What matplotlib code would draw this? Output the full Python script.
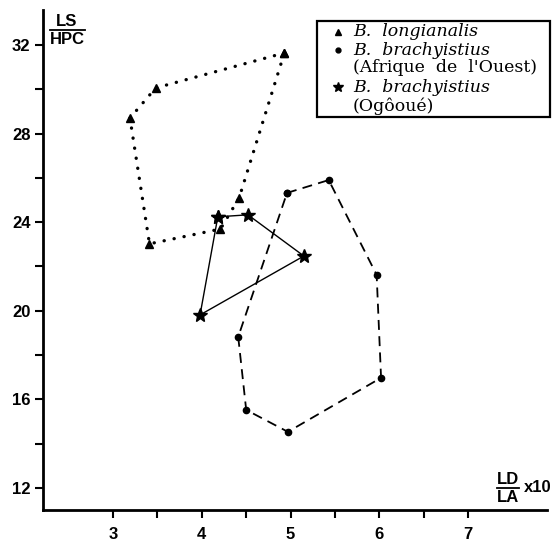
#!/usr/bin/env python
#------------------------------

import numpy as np
import matplotlib
matplotlib.use('Agg')
import matplotlib.pyplot as plt
from matplotlib.lines import Line2D
from matplotlib.patches import Rectangle

#------------------------------
# data: LD/LA x10 (x) vs LS/HPC (y)

longianalis_x = [4.93, 3.48, 3.19, 3.41, 4.21, 4.42]
longianalis_y = [31.64, 30.06, 28.70, 23.02, 23.69, 25.09]

brach_ouest_x = [4.96, 5.43, 5.97, 6.02, 4.97, 4.50, 4.41]
brach_ouest_y = [25.32, 25.90, 21.62, 16.97, 14.53, 15.52, 18.82]

brach_ogooue_x = [4.18, 4.52, 5.15, 3.98]
brach_ogooue_y = [24.24, 24.33, 22.47, 19.81]

xticks_major = [3, 4, 5, 6, 7]
yticks_major = [12, 16, 20, 24, 28, 32]

legend_lines = [('^', 'B.  longianalis', 'italic'),
                ('o', 'B.  brachyistius', 'italic'),
                (None, '(Afrique  de  l\'Ouest)', 'normal'),
                ('*', 'B.  brachyistius', 'italic'),
                (None, '(Ogôoué)', 'normal')]

#------------------------------

W, H = 556, 541

def closed(v) :
    return list(v) + [v[0]]

def fx(px) :
    return px / W

def fy(py) :
    return 1. - py / H

#------------------------------

fig = plt.figure(figsize=(W/100., H/100.), dpi=100)
ax = fig.add_axes([fx(43), fy(510), fx(547)-fx(43), fy(10)-fy(510)])

ax.plot(closed(longianalis_x), closed(longianalis_y), color='k', ls=(0, (0.05, 3.0)),
        lw=2.4, dash_capstyle='round', marker='^', ms=5.5, zorder=3)
ax.plot(closed(brach_ouest_x), closed(brach_ouest_y), color='k', ls=(0, (5.5, 3.5)),
        lw=1.3, marker='o', ms=4.5, zorder=3)
ax.plot(closed(brach_ogooue_x), closed(brach_ogooue_y), color='k', ls='-',
        lw=1.0, marker='*', ms=10, zorder=3)

ax.set_xlim(2.21, 7.89)
ax.set_ylim(11.0, 33.58)

ax.spines['top'].set_visible(False)
ax.spines['right'].set_visible(False)
ax.spines['left'].set_linewidth(2.0)
ax.spines['bottom'].set_linewidth(2.0)

ax.set_xticks(xticks_major)
ax.set_yticks(yticks_major)
ax.set_xticks(np.array(xticks_major[:-1]) + 0.5, minor=True)
ax.set_yticks(np.array(yticks_major[:-1]) + 2, minor=True)
ax.tick_params(which='both', direction='out', length=6, width=1.5, color='k')
ax.tick_params(axis='x', which='major', pad=6)
ax.tick_params(axis='y', which='major', pad=3)
for lab in ax.get_xticklabels() + ax.get_yticklabels() :
    lab.set_fontfamily('Liberation Sans')
    lab.set_fontweight('bold')
    lab.set_fontsize(12)

#------------------------------
# axis labels as fractions

sans = dict(family='Liberation Sans', weight='bold', fontsize=12, color='k')
fig.text(fx(67), fy(22), 'LS', ha='center', va='center', **sans)
fig.text(fx(67), fy(39), 'HPC', ha='center', va='center', **sans)
fig.add_artist(Line2D([fx(50), fx(85)], [fy(30), fy(30)], color='k', lw=1.3))

fig.text(fx(508), fy(480), 'LD', ha='center', va='center', **sans)
fig.text(fx(508), fy(497), 'LA', ha='center', va='center', **sans)
fig.add_artist(Line2D([fx(497), fx(519)], [fy(488), fy(488)], color='k', lw=1.3))
fig.text(fx(524), fy(488), 'x10', ha='left', va='center', **sans)

#------------------------------
# legend box

fig.add_artist(Rectangle((fx(317), fy(117)), fx(550)-fx(317), fy(21)-fy(117),
                         fill=False, ec='k', lw=1.6))
row_y = [32, 50, 68, 87, 106]
for (mk, txt, style), yy in zip(legend_lines, row_y) :
    if mk is not None :
        fig.add_artist(Line2D([fx(338)], [fy(yy)], marker=mk, color='k', ls='none',
                              ms={'^': 4.5, 'o': 3.5, '*': 7.5}[mk]))
    fig.text(fx(353), fy(yy), txt, ha='left', va='center', family='DejaVu Serif',
             style=style, fontsize=12.5, color='k')

fig.savefig('out.png', dpi=100)

#------------------------------
